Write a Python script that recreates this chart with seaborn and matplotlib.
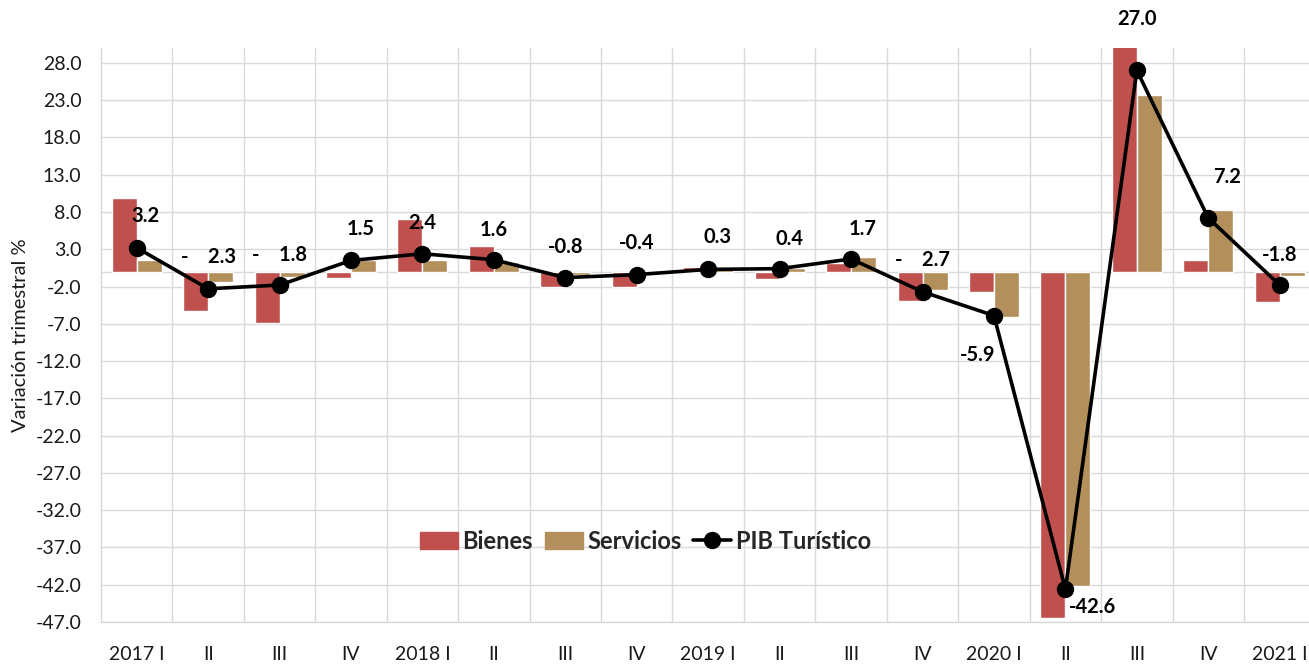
import numpy as np
import pandas as pd
import matplotlib.pyplot as plt
import seaborn as sns
from matplotlib.patches import Patch
from matplotlib.lines import Line2D

# datos (variación trimestral %)
periodos = ['2017T1', '2017T2', '2017T3', '2017T4', '2018T1', '2018T2', '2018T3', '2018T4',
            '2019T1', '2019T2', '2019T3', '2019T4', '2020T1', '2020T2', '2020T3', '2020T4', '2021T1']
etiquetas_x = ['2017 I', 'II', 'III', 'IV', '2018 I', 'II', 'III', 'IV',
               '2019 I', 'II', 'III', 'IV', '2020 I', 'II', 'III', 'IV', '2021 I']
bienes = [9.9, -5.3, -6.9, -0.9, 7.1, 3.5, -2.0, -2.0, 0.6, -1.0, 1.2, -4.0, -2.7, -46.5, 31.5, 1.6, -4.1]
servicios = [1.5, -1.4, -0.7, 1.5, 1.6, 1.3, -0.4, -0.3, 0.3, 0.5, 1.9, -2.5, -6.1, -42.2, 23.7, 8.3, -0.6]
pib_turistico = [3.2, -2.3, -1.8, 1.5, 2.4, 1.6, -0.8, -0.4, 0.3, 0.4, 1.7, -2.7, -5.9, -42.6, 27.0, 7.2, -1.8]
y_ticks = np.arange(-47, 29, 5)

# posición de las etiquetas de datos (offset en puntos)
offsets = [(6.5, 23), (0, 23), (0, 21.6), (7, 22.3), (0, 22.3), (0, 21.6), (0, 22.3), (0, 23),
           (7, 23), (7, 21), (8, 21.6), (0, 23), (-11.5, -28), (19.5, -13), (0, 37), (13.7, 29.5), (0, 21.6)]
guion_separado = {1, 2, 11}

colores = {'Bienes': '#C0504D', 'Servicios': '#B38F5B'}
gris = '#D9D9D9'

sns.set_theme(style='white')
plt.rcParams['font.family'] = ['Lato', 'DejaVu Sans']

n = len(periodos)
df = pd.DataFrame({
    'periodo': periodos * 2,
    'serie': ['Bienes'] * n + ['Servicios'] * n,
    'valor': bienes + servicios,
})

fig = plt.figure(figsize=(13.09, 6.64), dpi=100)
ax = fig.add_axes([101 / 1309, 1 - 622 / 664, 1 - 101 / 1309, (622 - 48) / 664])

sns.barplot(data=df, x='periodo', y='valor', hue='serie', order=periodos,
            hue_order=['Bienes', 'Servicios'], palette=colores, width=0.7, gap=0,
            saturation=1, errorbar=None, legend=False, ax=ax, zorder=2)

x = np.arange(n)
ax.plot(x, pib_turistico, color='black', lw=2.6, marker='o', ms=11.5,
        mec='black', mfc='black', zorder=4)

for i, v in enumerate(pib_turistico):
    if i in guion_separado:
        txt = '-    ' + f'{abs(v):.1f}'
    else:
        txt = f'{v:.1f}'
    ax.annotate(txt, (i, v), xytext=offsets[i], textcoords='offset points',
                ha='center', va='center', fontsize=14.5, fontweight='bold',
                color='black', zorder=5, annotation_clip=False)

ax.axhline(0, color=gris, lw=1, zorder=1)
ax.set_ylim(-47, 30)
ax.set_xlim(-0.5, 16.41)
ax.set_yticks(y_ticks)
ax.set_yticklabels([f'{t:.1f}' for t in y_ticks])
ax.set_xticks(x)
ax.set_xticklabels(etiquetas_x)
ax.set_xticks(np.arange(0.5, n - 1, 1), minor=True)
ax.grid(axis='y', which='major', color=gris, lw=1, zorder=0)
ax.grid(axis='x', which='minor', color=gris, lw=1, zorder=0)
ax.set_axisbelow(True)
ax.tick_params(which='both', length=0, labelsize=14, labelcolor='#1a1a1a')
ax.tick_params(axis='x', pad=17)
ax.tick_params(axis='y', pad=14)
for s in ['top', 'right']:
    ax.spines[s].set_visible(False)
for s in ['left', 'bottom']:
    ax.spines[s].set_color(gris)
    ax.spines[s].set_linewidth(1)

ax.set_xlabel('')
ax.set_ylabel('Variación trimestral %', fontsize=14.5, color='#1a1a1a', labelpad=5)

handles = [Patch(color=colores['Bienes'], label='Bienes'),
           Patch(color=colores['Servicios'], label='Servicios'),
           Line2D([0], [0], color='black', lw=2.6, marker='o', ms=11.5, label='PIB Turístico')]
ax.legend(handles=handles, ncol=3, frameon=False, loc='center',
          bbox_to_anchor=(0.4507, 0.141), prop={'size': 17, 'weight': 'bold'},
          handlelength=1.6, handletextpad=0.2, columnspacing=0.5)

fig.savefig('out.png', dpi=100)
plt.close(fig)
